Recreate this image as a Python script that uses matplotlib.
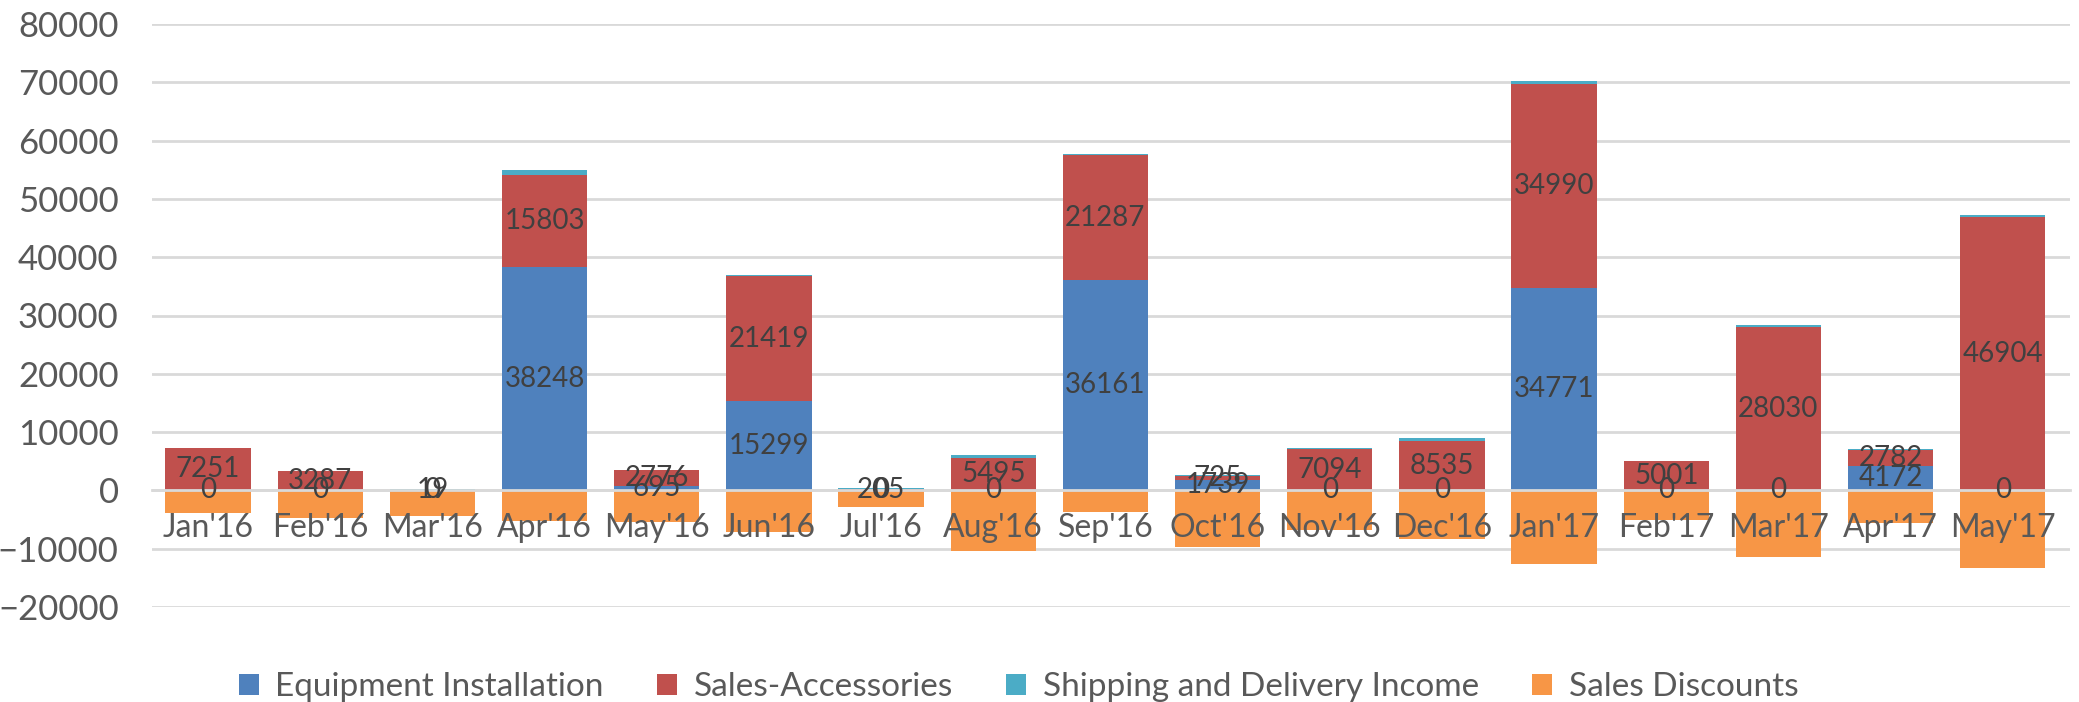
import matplotlib
matplotlib.use('Agg')
import matplotlib.pyplot as plt
import numpy as np

months = ["Jan'16", "Feb'16", "Mar'16", "Apr'16", "May'16", "Jun'16", "Jul'16", "Aug'16", "Sep'16",
          "Oct'16", "Nov'16", "Dec'16", "Jan'17", "Feb'17", "Mar'17", "Apr'17", "May'17"]
equipment = [0, 0, 0, 38248, 695, 15299, 0, 0, 36161, 1739, 0, 0, 34771, 0, 0, 4172, 0]
accessories = [7251, 3287, 19, 15803, 2776, 21419, 205, 5495, 21287, 725, 7094, 8535, 34990, 5001, 28030, 2782, 46904]
shipping = [100, 100, 220, 900, 100, 300, 200, 650, 300, 100, 200, 400, 400, 60, 400, 220, 350]
discounts = [-3900, -4650, -4370, -5170, -5340, -7180, -2870, -10340, -3790, -9650, -6720, -8330,
             -12700, -5060, -11440, -5520, -13390]

plt.rcParams['font.family'] = ['Lato', 'DejaVu Sans']

fig = plt.figure(figsize=(20.79, 7.02), dpi=100)
ax = fig.add_axes([152 / 2079, 1 - 607 / 702, 1918 / 2079, (607 - 24) / 702])

x = np.arange(len(months))
eq = np.array(equipment)
acc = np.array(accessories)
w = 0.76
b1 = ax.bar(x, eq, w, color='#4F81BD', label='Equipment Installation', zorder=2)
b2 = ax.bar(x, acc, w, bottom=eq, color='#C0504D', label='Sales-Accessories', zorder=2)
ax.bar(x, shipping, w, bottom=eq + acc, color='#4BACC6', label='Shipping and Delivery Income', zorder=2)
ax.bar(x, discounts, w, color='#F79646', label='Sales Discounts', zorder=2)

ax.bar_label(b1, labels=[str(v) for v in equipment], label_type='center', fontsize=20, color='#404040', zorder=6)
ax.bar_label(b2, labels=[str(v) for v in accessories], label_type='center', fontsize=20, color='#404040', zorder=6)

ax.set_xlim(-0.5, 16.6)
ax.set_ylim(-20000, 80000)
ax.set_yticks(np.arange(-20000, 80001, 10000))
ax.set_xticks(x)
ax.set_xticklabels(months)
ax.yaxis.grid(True, color='#d9d9d9', linewidth=2)
ax.set_axisbelow(True)
ax.xaxis.set_zorder(5)
for s in ['top', 'right', 'left']:
    ax.spines[s].set_visible(False)
ax.spines['bottom'].set_position(('data', 0))
ax.spines['bottom'].set_color('#d9d9d9')
ax.spines['bottom'].set_linewidth(2)
ax.spines['bottom'].set_zorder(3)
ax.tick_params(axis='y', length=0, labelsize=25, labelcolor='#595959', pad=24)
ax.tick_params(axis='x', length=0, labelsize=23, labelcolor='#595959', pad=16)

fig.legend(loc='center', bbox_to_anchor=(0.49, 0.021), ncol=4, frameon=False, fontsize=24,
           labelcolor='#595959', handlelength=0.6, handleheight=0.6, handletextpad=0.5, columnspacing=1.6)

fig.savefig('out.png', dpi=100)
